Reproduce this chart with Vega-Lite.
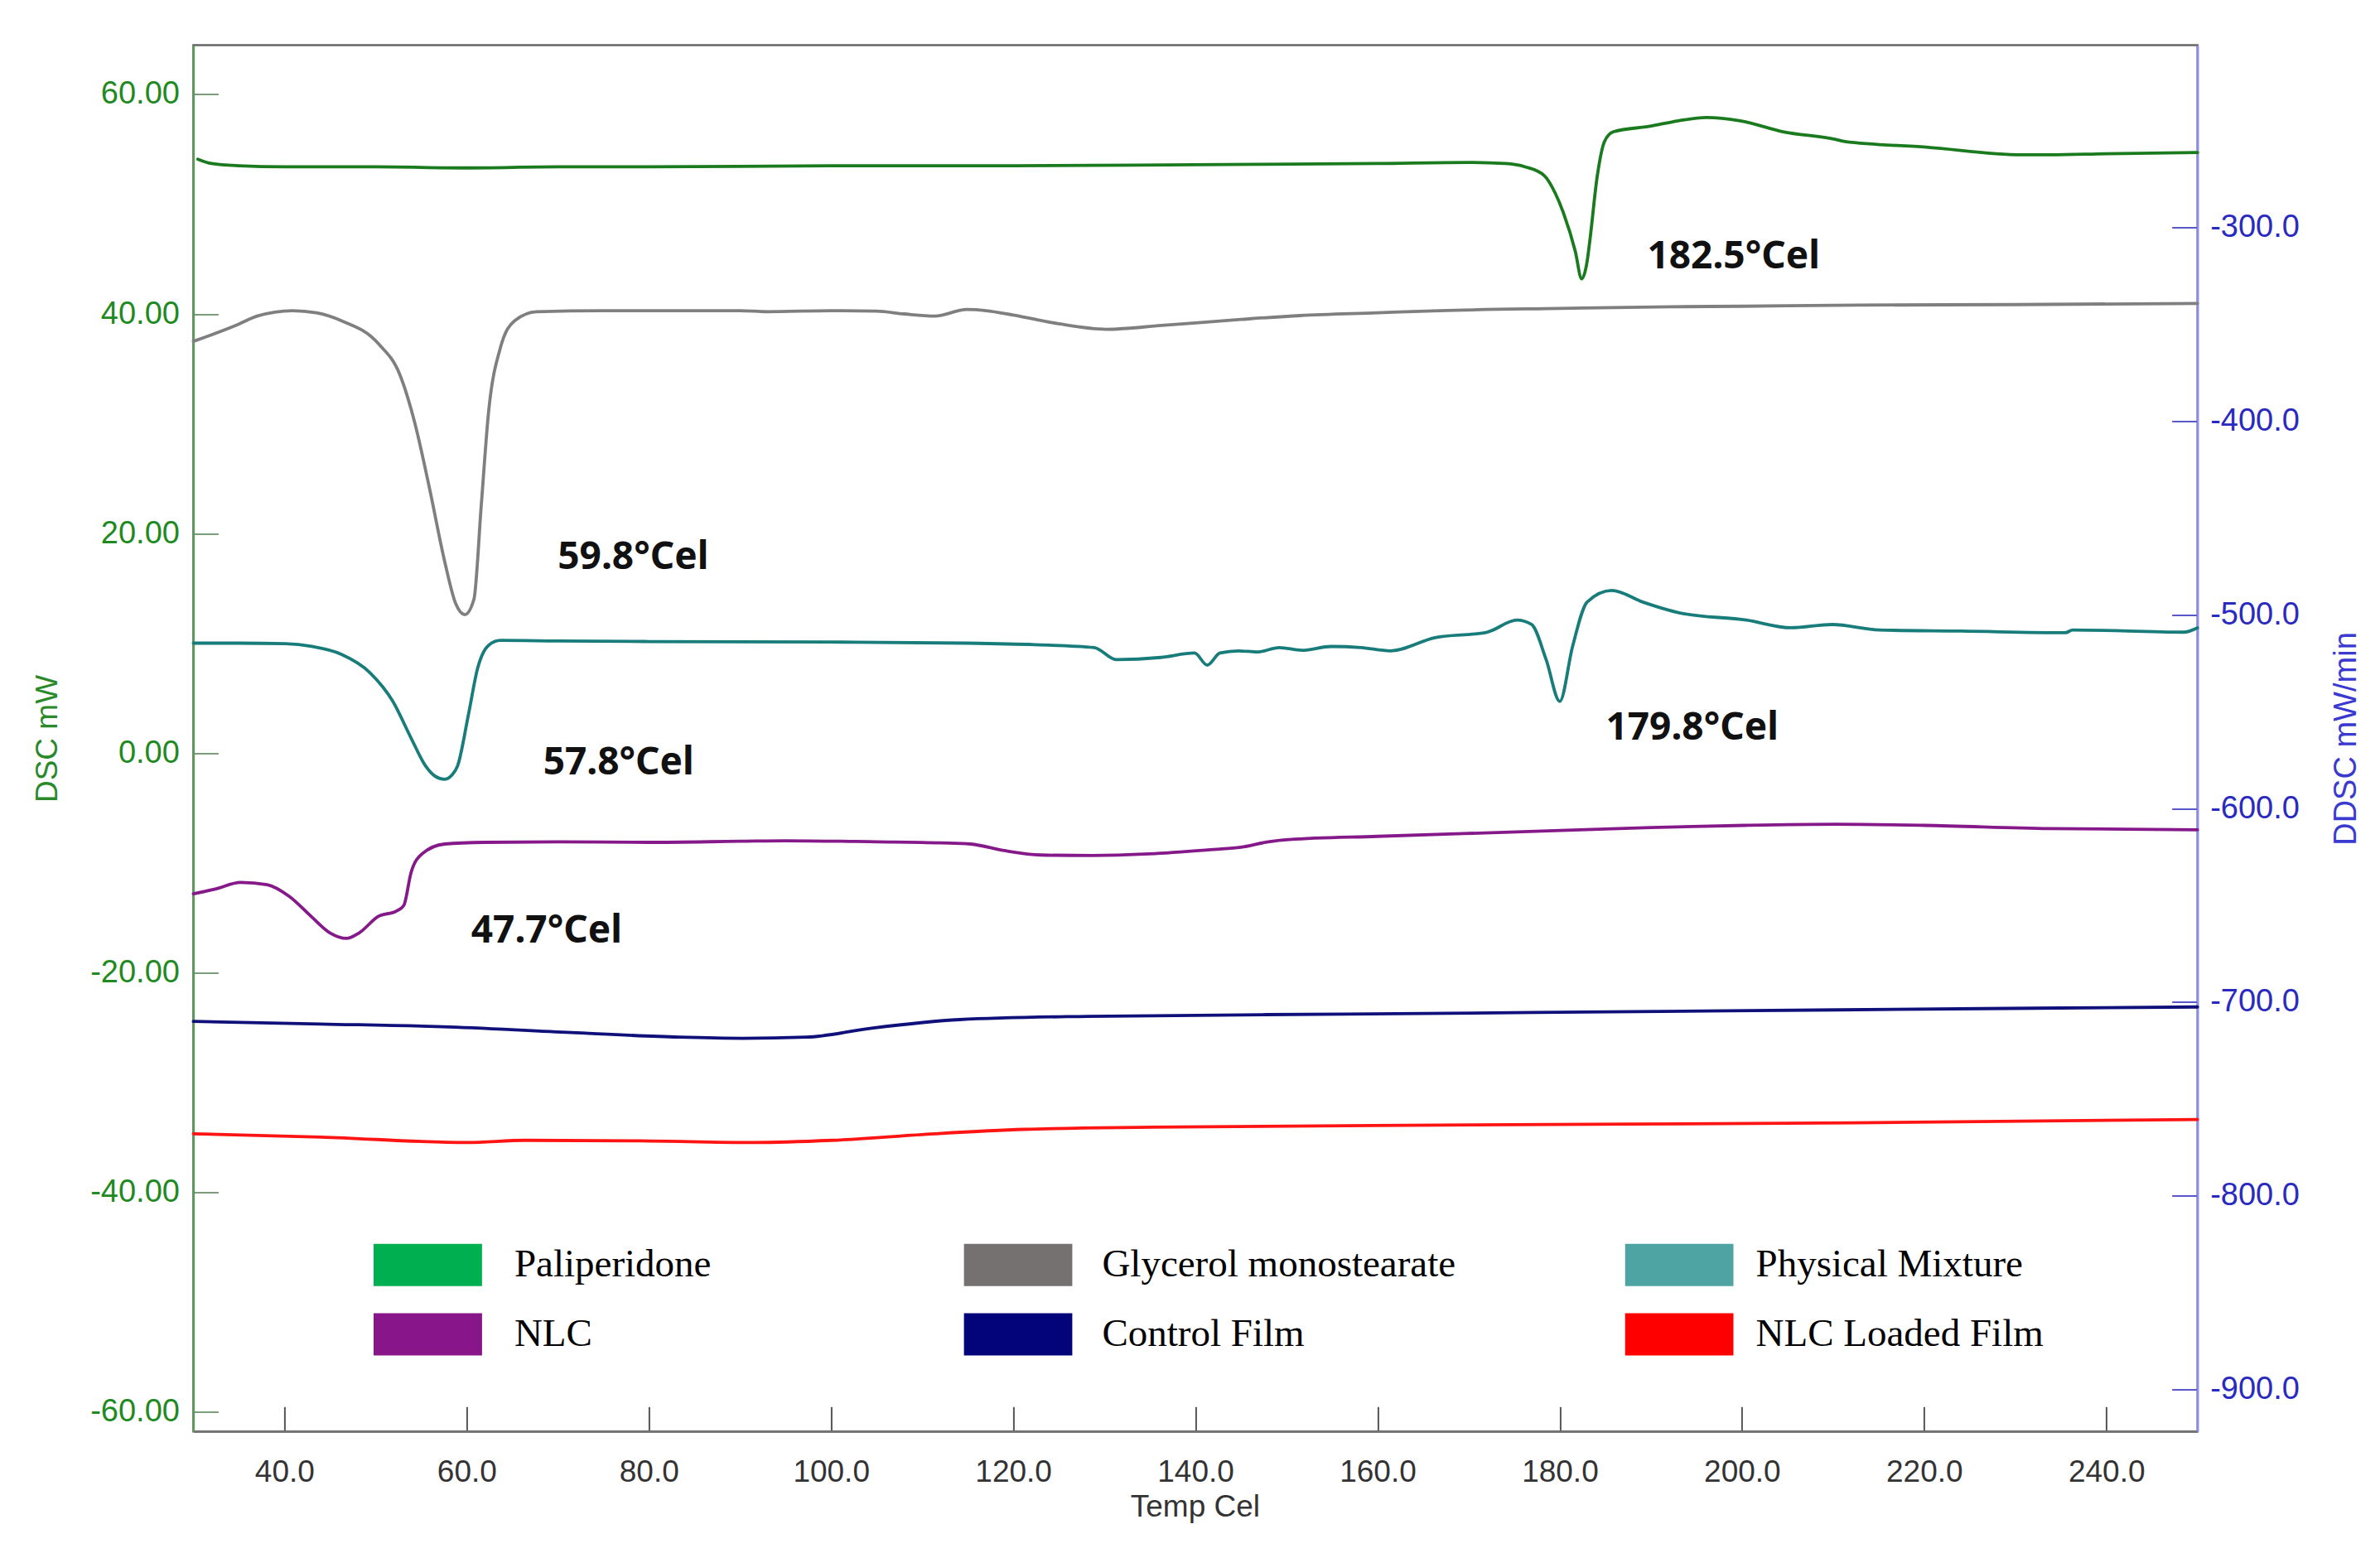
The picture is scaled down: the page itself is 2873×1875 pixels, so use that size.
{
  "$schema": "https://vega.github.io/schema/vega-lite/v6.json",
  "width": 2419.3,
  "height": 1673.8,
  "autosize": "none",
  "padding": {"left": 233.4, "top": 54.5, "right": 220.3, "bottom": 146.7},
  "background": "white",
  "datasets": {
    "dsc": [
      {"series": "Paliperidone", "temp": 30.5, "mw": 54.1},
      {"series": "Paliperidone", "temp": 32, "mw": 53.7},
      {"series": "Paliperidone", "temp": 35, "mw": 53.5},
      {"series": "Paliperidone", "temp": 40, "mw": 53.4},
      {"series": "Paliperidone", "temp": 50, "mw": 53.4},
      {"series": "Paliperidone", "temp": 60, "mw": 53.3},
      {"series": "Paliperidone", "temp": 70, "mw": 53.4},
      {"series": "Paliperidone", "temp": 80, "mw": 53.4},
      {"series": "Paliperidone", "temp": 100, "mw": 53.5},
      {"series": "Paliperidone", "temp": 120, "mw": 53.5},
      {"series": "Paliperidone", "temp": 140, "mw": 53.6},
      {"series": "Paliperidone", "temp": 160, "mw": 53.7},
      {"series": "Paliperidone", "temp": 170, "mw": 53.8},
      {"series": "Paliperidone", "temp": 174, "mw": 53.7},
      {"series": "Paliperidone", "temp": 176.2, "mw": 53.4},
      {"series": "Paliperidone", "temp": 178.3, "mw": 52.6},
      {"series": "Paliperidone", "temp": 179.5, "mw": 51.0},
      {"series": "Paliperidone", "temp": 180.4, "mw": 49.2},
      {"series": "Paliperidone", "temp": 181.7, "mw": 45.7},
      {"series": "Paliperidone", "temp": 182.4, "mw": 43.2},
      {"series": "Paliperidone", "temp": 183.0, "mw": 44.8},
      {"series": "Paliperidone", "temp": 183.3, "mw": 46.7},
      {"series": "Paliperidone", "temp": 184.1, "mw": 52.5},
      {"series": "Paliperidone", "temp": 184.9, "mw": 55.7},
      {"series": "Paliperidone", "temp": 185.9, "mw": 56.6},
      {"series": "Paliperidone", "temp": 189.9, "mw": 57.1},
      {"series": "Paliperidone", "temp": 193.0, "mw": 57.6},
      {"series": "Paliperidone", "temp": 196.1, "mw": 57.9},
      {"series": "Paliperidone", "temp": 199.8, "mw": 57.6},
      {"series": "Paliperidone", "temp": 204.5, "mw": 56.6},
      {"series": "Paliperidone", "temp": 210.3, "mw": 55.9},
      {"series": "Paliperidone", "temp": 211.3, "mw": 55.7},
      {"series": "Paliperidone", "temp": 220.2, "mw": 55.2},
      {"series": "Paliperidone", "temp": 230.7, "mw": 54.5},
      {"series": "Paliperidone", "temp": 233.8, "mw": 54.5},
      {"series": "Paliperidone", "temp": 240, "mw": 54.6},
      {"series": "Paliperidone", "temp": 250, "mw": 54.7},

      {"series": "Glycerol monostearate", "temp": 30, "mw": 37.5},
      {"series": "Glycerol monostearate", "temp": 34.8, "mw": 39.0},
      {"series": "Glycerol monostearate", "temp": 37, "mw": 39.8},
      {"series": "Glycerol monostearate", "temp": 40.9, "mw": 40.3},
      {"series": "Glycerol monostearate", "temp": 43.5, "mw": 40.1},
      {"series": "Glycerol monostearate", "temp": 46.2, "mw": 39.4},
      {"series": "Glycerol monostearate", "temp": 50.3, "mw": 37.3},
      {"series": "Glycerol monostearate", "temp": 52.7, "mw": 34.4},
      {"series": "Glycerol monostearate", "temp": 54.3, "mw": 30.1},
      {"series": "Glycerol monostearate", "temp": 55.9, "mw": 24.2},
      {"series": "Glycerol monostearate", "temp": 57.6, "mw": 17.4},
      {"series": "Glycerol monostearate", "temp": 58.8, "mw": 13.6},
      {"series": "Glycerol monostearate", "temp": 59.8, "mw": 12.6},
      {"series": "Glycerol monostearate", "temp": 60.8, "mw": 14.0},
      {"series": "Glycerol monostearate", "temp": 61.6, "mw": 22.5},
      {"series": "Glycerol monostearate", "temp": 62.4, "mw": 31.0},
      {"series": "Glycerol monostearate", "temp": 63.7, "mw": 36.9},
      {"series": "Glycerol monostearate", "temp": 65.3, "mw": 39.4},
      {"series": "Glycerol monostearate", "temp": 67.7, "mw": 40.2},
      {"series": "Glycerol monostearate", "temp": 75, "mw": 40.3},
      {"series": "Glycerol monostearate", "temp": 90, "mw": 40.3},
      {"series": "Glycerol monostearate", "temp": 93, "mw": 40.2},
      {"series": "Glycerol monostearate", "temp": 100, "mw": 40.3},
      {"series": "Glycerol monostearate", "temp": 105, "mw": 40.25},
      {"series": "Glycerol monostearate", "temp": 108, "mw": 40.0},
      {"series": "Glycerol monostearate", "temp": 111.4, "mw": 39.8},
      {"series": "Glycerol monostearate", "temp": 114.9, "mw": 40.4},
      {"series": "Glycerol monostearate", "temp": 117, "mw": 40.3},
      {"series": "Glycerol monostearate", "temp": 120, "mw": 39.9},
      {"series": "Glycerol monostearate", "temp": 125, "mw": 39.1},
      {"series": "Glycerol monostearate", "temp": 130.2, "mw": 38.6},
      {"series": "Glycerol monostearate", "temp": 136.3, "mw": 38.95},
      {"series": "Glycerol monostearate", "temp": 145, "mw": 39.5},
      {"series": "Glycerol monostearate", "temp": 151.5, "mw": 39.85},
      {"series": "Glycerol monostearate", "temp": 160, "mw": 40.1},
      {"series": "Glycerol monostearate", "temp": 166.8, "mw": 40.3},
      {"series": "Glycerol monostearate", "temp": 180, "mw": 40.5},
      {"series": "Glycerol monostearate", "temp": 192.2, "mw": 40.65},
      {"series": "Glycerol monostearate", "temp": 200, "mw": 40.7},
      {"series": "Glycerol monostearate", "temp": 212.6, "mw": 40.8},
      {"series": "Glycerol monostearate", "temp": 230, "mw": 40.85},
      {"series": "Glycerol monostearate", "temp": 250, "mw": 40.96},

      {"series": "Physical Mixture", "temp": 30, "mw": 10.0},
      {"series": "Physical Mixture", "temp": 35, "mw": 10.0},
      {"series": "Physical Mixture", "temp": 40.1, "mw": 9.95},
      {"series": "Physical Mixture", "temp": 43, "mw": 9.7},
      {"series": "Physical Mixture", "temp": 46.2, "mw": 9.0},
      {"series": "Physical Mixture", "temp": 49.4, "mw": 7.3},
      {"series": "Physical Mixture", "temp": 51.9, "mw": 4.7},
      {"series": "Physical Mixture", "temp": 53.9, "mw": 1.35},
      {"series": "Physical Mixture", "temp": 55.5, "mw": -1.2},
      {"series": "Physical Mixture", "temp": 56.5, "mw": -2.1},
      {"series": "Physical Mixture", "temp": 57.6, "mw": -2.4},
      {"series": "Physical Mixture", "temp": 58.4, "mw": -2.0},
      {"series": "Physical Mixture", "temp": 59.0, "mw": -1.2},
      {"series": "Physical Mixture", "temp": 60.2, "mw": 3.5},
      {"series": "Physical Mixture", "temp": 61.2, "mw": 7.7},
      {"series": "Physical Mixture", "temp": 62.4, "mw": 9.8},
      {"series": "Physical Mixture", "temp": 63.7, "mw": 10.25},
      {"series": "Physical Mixture", "temp": 70, "mw": 10.2},
      {"series": "Physical Mixture", "temp": 80, "mw": 10.15},
      {"series": "Physical Mixture", "temp": 100, "mw": 10.1},
      {"series": "Physical Mixture", "temp": 115, "mw": 10.0},
      {"series": "Physical Mixture", "temp": 122.4, "mw": 9.86},
      {"series": "Physical Mixture", "temp": 128.9, "mw": 9.6},
      {"series": "Physical Mixture", "temp": 131.3, "mw": 8.5},
      {"series": "Physical Mixture", "temp": 136.2, "mw": 8.7},
      {"series": "Physical Mixture", "temp": 139.9, "mw": 9.1},
      {"series": "Physical Mixture", "temp": 141.3, "mw": 8.0},
      {"series": "Physical Mixture", "temp": 142.7, "mw": 9.1},
      {"series": "Physical Mixture", "temp": 144.7, "mw": 9.3},
      {"series": "Physical Mixture", "temp": 146.8, "mw": 9.2},
      {"series": "Physical Mixture", "temp": 149.2, "mw": 9.6},
      {"series": "Physical Mixture", "temp": 151.7, "mw": 9.35},
      {"series": "Physical Mixture", "temp": 154.9, "mw": 9.7},
      {"series": "Physical Mixture", "temp": 158.2, "mw": 9.6},
      {"series": "Physical Mixture", "temp": 161.4, "mw": 9.3},
      {"series": "Physical Mixture", "temp": 166.3, "mw": 10.5},
      {"series": "Physical Mixture", "temp": 172.0, "mw": 11.0},
      {"series": "Physical Mixture", "temp": 175.3, "mw": 12.1},
      {"series": "Physical Mixture", "temp": 176.9, "mw": 11.7},
      {"series": "Physical Mixture", "temp": 178.5, "mw": 8.5},
      {"series": "Physical Mixture", "temp": 180.0, "mw": 4.7},
      {"series": "Physical Mixture", "temp": 181.4, "mw": 9.7},
      {"series": "Physical Mixture", "temp": 183.0, "mw": 13.75},
      {"series": "Physical Mixture", "temp": 185.7, "mw": 14.8},
      {"series": "Physical Mixture", "temp": 189.1, "mw": 13.75},
      {"series": "Physical Mixture", "temp": 193.2, "mw": 12.75},
      {"series": "Physical Mixture", "temp": 200.5, "mw": 12.1},
      {"series": "Physical Mixture", "temp": 205.4, "mw": 11.4},
      {"series": "Physical Mixture", "temp": 209.9, "mw": 11.7},
      {"series": "Physical Mixture", "temp": 215.1, "mw": 11.2},
      {"series": "Physical Mixture", "temp": 224.1, "mw": 11.1},
      {"series": "Physical Mixture", "temp": 235.5, "mw": 10.95},
      {"series": "Physical Mixture", "temp": 236.3, "mw": 11.2},
      {"series": "Physical Mixture", "temp": 248.5, "mw": 11.0},
      {"series": "Physical Mixture", "temp": 250, "mw": 11.4},

      {"series": "NLC", "temp": 30, "mw": -12.84},
      {"series": "NLC", "temp": 32.4, "mw": -12.4},
      {"series": "NLC", "temp": 35.2, "mw": -11.8},
      {"series": "NLC", "temp": 38.1, "mw": -12.0},
      {"series": "NLC", "temp": 40.5, "mw": -13.05},
      {"series": "NLC", "temp": 43.0, "mw": -14.95},
      {"series": "NLC", "temp": 45.0, "mw": -16.4},
      {"series": "NLC", "temp": 46.8, "mw": -16.9},
      {"series": "NLC", "temp": 48.2, "mw": -16.4},
      {"series": "NLC", "temp": 50.3, "mw": -14.9},
      {"series": "NLC", "temp": 52.3, "mw": -14.4},
      {"series": "NLC", "temp": 53.1, "mw": -13.9},
      {"series": "NLC", "temp": 53.9, "mw": -10.9},
      {"series": "NLC", "temp": 55.1, "mw": -9.2},
      {"series": "NLC", "temp": 57.6, "mw": -8.3},
      {"series": "NLC", "temp": 62, "mw": -8.15},
      {"series": "NLC", "temp": 70, "mw": -8.1},
      {"series": "NLC", "temp": 80, "mw": -8.15},
      {"series": "NLC", "temp": 90, "mw": -8.05},
      {"series": "NLC", "temp": 95, "mw": -8.0},
      {"series": "NLC", "temp": 105, "mw": -8.1},
      {"series": "NLC", "temp": 112, "mw": -8.2},
      {"series": "NLC", "temp": 115.3, "mw": -8.3},
      {"series": "NLC", "temp": 119, "mw": -8.9},
      {"series": "NLC", "temp": 123, "mw": -9.3},
      {"series": "NLC", "temp": 128.7, "mw": -9.35},
      {"series": "NLC", "temp": 135, "mw": -9.2},
      {"series": "NLC", "temp": 142, "mw": -8.8},
      {"series": "NLC", "temp": 145, "mw": -8.6},
      {"series": "NLC", "temp": 148, "mw": -8.1},
      {"series": "NLC", "temp": 150.3, "mw": -7.9},
      {"series": "NLC", "temp": 160, "mw": -7.6},
      {"series": "NLC", "temp": 175.3, "mw": -7.2},
      {"series": "NLC", "temp": 190, "mw": -6.8},
      {"series": "NLC", "temp": 200.3, "mw": -6.6},
      {"series": "NLC", "temp": 210.3, "mw": -6.5},
      {"series": "NLC", "temp": 220, "mw": -6.6},
      {"series": "NLC", "temp": 233.7, "mw": -6.9},
      {"series": "NLC", "temp": 250, "mw": -7.0},

      {"series": "Control Film", "temp": 30, "mw": -24.46},
      {"series": "Control Film", "temp": 44.0, "mw": -24.7},
      {"series": "Control Film", "temp": 58.0, "mw": -24.97},
      {"series": "Control Film", "temp": 72.0, "mw": -25.5},
      {"series": "Control Film", "temp": 83.3, "mw": -25.9},
      {"series": "Control Film", "temp": 90.3, "mw": -26.0},
      {"series": "Control Film", "temp": 97.3, "mw": -25.9},
      {"series": "Control Film", "temp": 104.3, "mw": -25.1},
      {"series": "Control Film", "temp": 114.1, "mw": -24.3},
      {"series": "Control Film", "temp": 128.2, "mw": -24.0},
      {"series": "Control Film", "temp": 156.3, "mw": -23.8},
      {"series": "Control Film", "temp": 198.3, "mw": -23.5},
      {"series": "Control Film", "temp": 226.4, "mw": -23.3},
      {"series": "Control Film", "temp": 250, "mw": -23.15},

      {"series": "NLC Loaded Film", "temp": 30, "mw": -34.7},
      {"series": "NLC Loaded Film", "temp": 44.0, "mw": -35.0},
      {"series": "NLC Loaded Film", "temp": 60.1, "mw": -35.5},
      {"series": "NLC Loaded Film", "temp": 66.4, "mw": -35.3},
      {"series": "NLC Loaded Film", "temp": 79.1, "mw": -35.35},
      {"series": "NLC Loaded Film", "temp": 91.7, "mw": -35.5},
      {"series": "NLC Loaded Film", "temp": 100.1, "mw": -35.3},
      {"series": "NLC Loaded Film", "temp": 111.4, "mw": -34.7},
      {"series": "NLC Loaded Film", "temp": 121.2, "mw": -34.3},
      {"series": "NLC Loaded Film", "temp": 135.2, "mw": -34.1},
      {"series": "NLC Loaded Film", "temp": 170.3, "mw": -33.9},
      {"series": "NLC Loaded Film", "temp": 212.4, "mw": -33.7},
      {"series": "NLC Loaded Film", "temp": 250, "mw": -33.4}
    ],
    "notes": [
      {"label": "182.5°Cel", "temp": 189.6, "mw": 44.15},
      {"label": "59.8°Cel", "temp": 70.0, "mw": 16.72},
      {"label": "57.8°Cel", "temp": 68.4, "mw": -1.96},
      {"label": "179.8°Cel", "temp": 185.05, "mw": 1.19},
      {"label": "47.7°Cel", "temp": 60.5, "mw": -17.28}
    ]
  },
  "layer": [
    {
      "layer": [
        {
          "data": {"name": "dsc"},
          "mark": {"type": "line", "interpolate": "monotone", "strokeWidth": 3.8, "strokeJoin": "round", "strokeCap": "round"},
          "encoding": {
            "x": {
              "field": "temp", "type": "quantitative",
              "scale": {"domain": [30, 250], "nice": false, "zero": false},
              "axis": {
                "orient": "bottom",
                "values": [40, 60, 80, 100, 120, 140, 160, 180, 200, 220, 240],
                "format": ".1f",
                "title": "Temp Cel",
                "titleX": 1209, "titleY": 91,
                "titleAlign": "center", "titleBaseline": "middle",
                "titleFont": "Liberation Sans", "titleFontSize": 37, "titleFontWeight": "normal", "titleColor": "#333333",
                "labelFont": "Liberation Sans", "labelFontSize": 37, "labelColor": "#333333",
                "labelBaseline": "top", "labelPadding": 61, "labelFlush": false,
                "tickSize": -30, "tickWidth": 2, "tickColor": "#555555",
                "domainColor": "#777777", "domainWidth": 2.5, "grid": false
              }
            },
            "y": {
              "field": "mw", "type": "quantitative",
              "scale": {"domain": [-61.83, 64.49], "nice": false, "zero": false},
              "axis": {
                "orient": "left",
                "values": [-60, -40, -20, 0, 20, 40, 60],
                "format": ".2f",
                "labelExpr": "replace(datum.label, '\u2212', '-')",
                "title": "DSC mW",
                "titleX": -176, "titleY": 837, "titleAngle": 270,
                "titleAlign": "center", "titleBaseline": "middle",
                "titleFont": "Liberation Sans", "titleFontSize": 37, "titleFontWeight": "normal", "titleColor": "#2a8a2a",
                "labelFont": "Liberation Sans", "labelFontSize": 38, "labelColor": "#1f8a1f",
                "labelPadding": 47, "labelFlush": false,
                "tickSize": -30, "tickWidth": 2, "tickColor": "#7a9e7a",
                "domainColor": "#5b9b5b", "domainWidth": 2.5, "grid": false
              }
            },
            "color": {
              "field": "series", "type": "nominal",
              "scale": {
                "domain": ["Paliperidone", "Glycerol monostearate", "Physical Mixture", "NLC", "Control Film", "NLC Loaded Film"],
                "range": ["#1a7a1e", "#7f7f7f", "#187c7a", "#86198a", "#10107a", "#ff1414"]
              },
              "legend": null
            }
          }
        },
        {
          "data": {"name": "notes"},
          "mark": {"type": "text", "font": "Noto Sans", "fontWeight": "bold", "fontSize": 46, "align": "left", "baseline": "alphabetic", "color": "#111111"},
          "encoding": {
            "x": {"field": "temp", "type": "quantitative"},
            "y": {"field": "mw", "type": "quantitative"},
            "text": {"field": "label", "type": "nominal"}
          }
        },
        {
          "data": {"name": "dsc"},
          "transform": [{"filter": "false"}],
          "mark": {"type": "square", "filled": true},
          "encoding": {
            "fill": {
              "field": "series", "type": "nominal",
              "scale": {"domain": ["Paliperidone", "NLC"], "range": ["#00B050", "#88158A"]},
              "legend": {
                "orient": "none", "legendX": 217.5, "legendY": 1442.7, "direction": "vertical", "title": null, "padding": 0,
                "symbolType": "M-1,-0.3893H1V0.3893H-1Z", "symbolSize": 17161, "symbolStrokeWidth": 0, "symbolOpacity": 1,
                "clipHeight": 60, "rowPadding": 23.8, "labelOffset": 39,
                "labelFont": "Liberation Serif", "labelFontSize": 47, "labelColor": "#000000", "labelLimit": 2000
              }
            }
          }
        },
        {
          "data": {"name": "dsc"},
          "transform": [{"filter": "false"}],
          "mark": {"type": "square", "filled": true},
          "encoding": {
            "fill": {
              "field": "series", "type": "nominal",
              "scale": {"domain": ["Glycerol monostearate", "Control Film"], "range": ["#767171", "#03037A"]},
              "legend": {
                "orient": "none", "legendX": 930, "legendY": 1442.7, "direction": "vertical", "title": null, "padding": 0,
                "symbolType": "M-1,-0.3893H1V0.3893H-1Z", "symbolSize": 17161, "symbolStrokeWidth": 0, "symbolOpacity": 1,
                "clipHeight": 60, "rowPadding": 23.8, "labelOffset": 36,
                "labelFont": "Liberation Serif", "labelFontSize": 47, "labelColor": "#000000", "labelLimit": 2000
              }
            }
          }
        },
        {
          "data": {"name": "dsc"},
          "transform": [{"filter": "false"}],
          "mark": {"type": "square", "filled": true},
          "encoding": {
            "fill": {
              "field": "series", "type": "nominal",
              "scale": {"domain": ["Physical Mixture", "NLC Loaded Film"], "range": ["#4EA3A3", "#FF0000"]},
              "legend": {
                "orient": "none", "legendX": 1728.1, "legendY": 1442.7, "direction": "vertical", "title": null, "padding": 0,
                "symbolType": "M-1,-0.3893H1V0.3893H-1Z", "symbolSize": 17161, "symbolStrokeWidth": 0, "symbolOpacity": 1,
                "clipHeight": 60, "rowPadding": 23.8, "labelOffset": 27,
                "labelFont": "Liberation Serif", "labelFontSize": 47, "labelColor": "#000000", "labelLimit": 2000
              }
            }
          }
        }
      ],
      "resolve": {"scale": {"fill": "independent"}, "legend": {"fill": "independent"}}
    },
    {
      "data": {"name": "dsc"},
      "transform": [{"filter": "false"}],
      "mark": {"type": "point"},
      "encoding": {
        "y": {
          "field": "ddsc", "type": "quantitative",
          "scale": {"domain": [-921.6, -206], "nice": false, "zero": false},
          "axis": {
            "orient": "right",
            "values": [-900, -800, -700, -600, -500, -400, -300],
            "format": ".1f",
            "labelExpr": "replace(datum.label, '\u2212', '-')",
            "title": "DDSC mW/min",
            "titleX": 180, "titleY": 837, "titleAngle": 270,
            "titleAlign": "center", "titleBaseline": "middle",
            "titleFont": "Liberation Sans", "titleFontSize": 38, "titleFontWeight": "normal", "titleColor": "#3a3ad0",
            "labelFont": "Liberation Sans", "labelFontSize": 38, "labelColor": "#2a2ac0",
            "labelPadding": 46, "labelFlush": false,
            "tickSize": -31, "tickWidth": 2, "tickColor": "#5858c8",
            "domainColor": "#8a8af0", "domainWidth": 2.5, "grid": false
          }
        }
      }
    }
  ],
  "resolve": {"scale": {"y": "independent"}, "axis": {"y": "independent"}},
  "config": {
    "view": {"stroke": "#666666", "strokeWidth": 2.5},
    "axis": {"grid": false}
  }
}
